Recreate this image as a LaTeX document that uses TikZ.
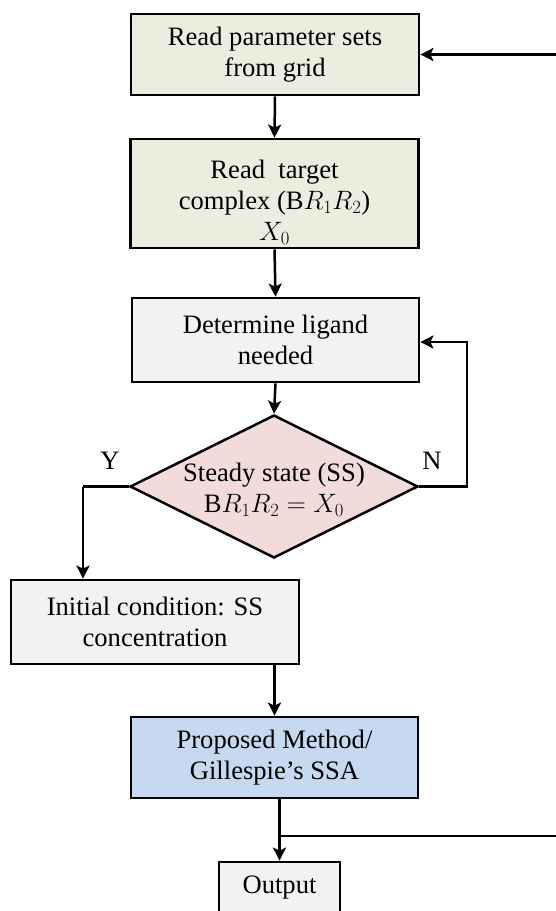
\documentclass[tikz,border=0pt]{standalone}
\usepackage{fix-cm}
\usepackage{fontspec}
\setmainfont{Liberation Serif}
\usetikzlibrary{shapes.geometric,arrows.meta,calc}
\definecolor{greenfill}{HTML}{EBEEDE}
\definecolor{grayfill}{HTML}{F2F2F2}
\definecolor{pinkfill}{HTML}{F2DCDB}
\definecolor{bluefill}{HTML}{C6D9F1}
\tikzset{
  boxstyle/.style={draw=black, line width=2.8pt, rectangle, inner sep=0pt, align=center,
    font=\fontsize{26.6}{31}\selectfont},
  lbl/.style={font=\fontsize{26.6}{31}\selectfont, inner sep=0pt},
  conn/.style={line width=2.5pt, -{Stealth[length=13pt,width=13pt,inset=3pt]}},
  plain/.style={line width=2.5pt}
}
\begin{document}
\begin{tikzpicture}[x=1pt,y=-1pt]
\useasboundingbox (0,0) rectangle (555,911);
\node[boxstyle, fill=greenfill, minimum width=288pt, minimum height=81pt] (b1) at (275,54.5)
  {Read parameter sets\\from grid};
\node[boxstyle, fill=greenfill, minimum width=288pt, minimum height=109pt] (b2) at (274.5,193.5) {};
\node[lbl, align=center] (b2t) at (274.5,202) {Read\ \ target\\complex (B$R_1R_2$)\\$X_0$};
\node[boxstyle, fill=grayfill, minimum width=287pt, minimum height=84pt] (b3) at (275.5,340)
  {Determine ligand\\needed};
\node[draw=black, line width=2.5pt, diamond, fill=pinkfill, minimum width=288pt, minimum height=143pt, inner sep=0pt] (dia) at (274,486.5) {};
\node[lbl, align=center] (diatext) at (274,490) {Steady state (SS)\\B$R_1R_2=X_0$};
\node[boxstyle, fill=grayfill, minimum width=288pt, minimum height=84pt] (b4) at (155,622)
  {Initial condition: SS\\concentration};
\node[boxstyle, fill=bluefill, minimum width=287pt, minimum height=81pt] (b5) at (274.5,757.5)
  {Proposed Method/\\Gillespie’s SSA};
\node[boxstyle, fill=grayfill, minimum width=121pt, minimum height=52pt] (out) at (279.5,888)
  {Output};
\node[lbl] (ylab) at (110,461) {Y};
\node[lbl] (nlab) at (432,461) {N};
% connectors
\draw[conn] (b1.south) -- (b2.north);
\draw[conn] (b2.south) -- (b3.north);
\draw[conn] (b3.south) -- (dia.north);
\coordinate (nc) at (467,486.5);
\draw[conn] (dia.east) -- (nc) |- ($(b3.east)+(0,2)$);
\coordinate (yc) at (83,486.5);
\draw[plain] (dia.west) -- (yc);
\draw[conn] (yc) -- (yc |- b4.north);
\draw[conn] (b5.north |- b4.south) -- (b5.north);
\draw[conn] (out.north |- b5.south) -- (out.north);
\coordinate (br) at (279.5,836);
\coordinate (rc1) at (562,836);
\coordinate (rc2) at (562,54.5);
\draw[conn] (br) -- (rc1) -- (rc2) -- (b1.east);
\end{tikzpicture}
\end{document}
